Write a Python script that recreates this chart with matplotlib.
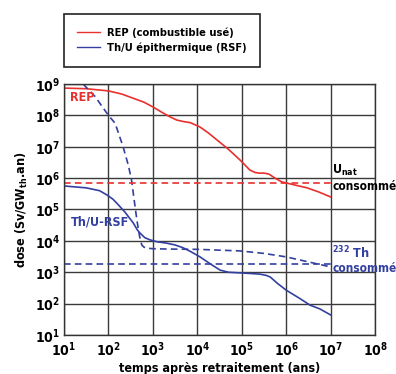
import numpy as np
import matplotlib.pyplot as plt
from matplotlib.lines import Line2D

# REP (combustible usé) - log10(time), log10(dose)
rep_t = [1.0, 1.5, 2.0, 2.3, 2.55, 2.8, 3.0, 3.2, 3.39, 3.54, 3.7, 3.84, 4.06, 4.25, 4.44, 4.7, 4.96, 5.1, 5.18, 5.3, 5.39, 5.5, 5.61, 5.75, 5.9, 6.2, 6.47, 6.75, 7.0]
rep_d = [8.87, 8.85, 8.78, 8.68, 8.55, 8.42, 8.27, 8.1, 7.95, 7.85, 7.8, 7.77, 7.63, 7.44, 7.22, 6.92, 6.58, 6.38, 6.26, 6.18, 6.16, 6.16, 6.13, 6.0, 5.88, 5.78, 5.69, 5.55, 5.4]

# Th/U-RSF solid
rsf_t = [1.0, 1.5, 1.8, 1.97, 2.1, 2.19, 2.37, 2.56, 2.65, 2.71, 2.82, 2.94, 3.1, 3.3, 3.5, 3.68, 3.85, 4.06, 4.3, 4.51, 4.7, 4.96, 5.2, 5.41, 5.55, 5.64, 5.8, 6.0, 6.3, 6.54, 6.76, 7.0]
rsf_d = [5.75, 5.69, 5.6, 5.46, 5.33, 5.2, 4.92, 4.57, 4.35, 4.25, 4.1, 4.03, 3.97, 3.93, 3.87, 3.78, 3.66, 3.49, 3.26, 3.07, 3.0, 2.98, 2.96, 2.94, 2.9, 2.85, 2.65, 2.43, 2.17, 1.95, 1.83, 1.64]

# Th/U-RSF dashed
rsfd_t = [1.43, 1.7, 2.0, 2.15, 2.33, 2.45, 2.52, 2.58, 2.64, 2.7, 2.75, 2.8, 2.86, 3.0, 3.3, 4.0, 4.96, 5.5, 6.0, 6.5, 7.0]
rsfd_d = [9.0, 8.6, 8.0, 7.75, 7.0, 6.4, 5.94, 5.3, 4.67, 4.15, 3.87, 3.8, 3.77, 3.75, 3.74, 3.73, 3.68, 3.6, 3.49, 3.33, 3.17]

unat = 7e5
th232 = 1.8e3

red = "#e8302e"
blue = "#3340a0"

plt.rcParams['font.family'] = ['DejaVu Sans']
plt.rcParams['font.weight'] = 'bold'
plt.rcParams['font.stretch'] = 'condensed'
plt.rcParams['mathtext.fontset'] = 'custom'
plt.rcParams['mathtext.rm'] = 'DejaVu Sans:weight=bold:stretch=condensed'
plt.rcParams['mathtext.bf'] = 'DejaVu Sans:weight=bold:stretch=condensed'
plt.rcParams['mathtext.it'] = 'DejaVu Sans:weight=bold:stretch=condensed'

fig = plt.figure(figsize=(3.96, 3.74), dpi=100)
ax = fig.add_axes([0.1616, 0.1043, 0.7854, 0.6711])

ax.plot(10 ** np.array(rep_t), 10 ** np.array(rep_d), color=red, lw=1.2)
ax.plot(10 ** np.array(rsf_t), 10 ** np.array(rsf_d), color=blue, lw=1.2)
ax.plot(10 ** np.array(rsfd_t), 10 ** np.array(rsfd_d), color=blue, lw=1.2, ls=(0, (4, 2.5)))
ax.plot([10, 1e7], [unat, unat], color=red, lw=1.2, ls=(0, (4, 2.5)))
ax.plot([10, 1e7], [th232, th232], color=blue, lw=1.2, ls=(0, (4, 2.5)))

ax.set_xscale('log')
ax.set_yscale('log')
ax.set_xlim(10, 1e8)
ax.set_ylim(10, 1e9)
ax.set_xticks([10 ** k for k in range(1, 9)])
ax.set_yticks([10 ** k for k in range(1, 10)])
ax.set_xticklabels([r'$\mathbf{10^{%d}}$' % k for k in range(1, 9)], fontsize=10)
ax.set_yticklabels([r'$\mathbf{10^{%d}}$' % k for k in range(1, 10)], fontsize=10)
ax.minorticks_off()
ax.tick_params(axis='x', length=0, pad=4)
ax.tick_params(axis='y', length=0, pad=3)
ax.grid(True, color='#3a3a3a', lw=1.0)
for s in ax.spines.values():
    s.set_color('#333333')
    s.set_linewidth(1.0)

ax.set_xlabel('temps après retraitement (ans)', fontsize=9, fontweight='bold', labelpad=2)
ax.set_ylabel(r'dose (Sv/GW$_{\mathbf{th}}$.an)', fontsize=9, fontweight='bold', labelpad=3)

ax.text(14, 2.9e8, 'REP', color=red, fontsize=9, fontweight='bold')
ax.text(14, 3.0e4, 'Th/U-RSF', color=blue, fontsize=9, fontweight='bold')
ax.text(1.1e7, 1.4e6, r'U$_{\mathbf{nat}}$', color='black', fontsize=9, fontweight='bold')
ax.text(1.1e7, 4.3e5, 'consommé', color='black', fontsize=8.5, fontweight='bold')
ax.text(1.1e7, 2.7e3, r'$^{\mathbf{232}}$ Th', color=blue, fontsize=9, fontweight='bold')
ax.text(1.1e7, 1.0e3, 'consommé', color=blue, fontsize=8.5, fontweight='bold')

handles = [Line2D([], [], color=red, lw=1.0), Line2D([], [], color=blue, lw=1.0)]
leg = fig.legend(handles, ['REP (combustible usé)', 'Th/U épithermique (RSF)'],
                 loc='upper left', bbox_to_anchor=(0.1616, 0.9626),
                 fancybox=False, edgecolor='#222222', framealpha=1,
                 prop={'size': 8, 'weight': 'bold', 'stretch': 'condensed'}, borderpad=1.2,
                 handlelength=2.0, handletextpad=0.7, labelspacing=0.45, borderaxespad=0)
leg.get_frame().set_linewidth(1.2)

fig.savefig('out.png', dpi=100)
